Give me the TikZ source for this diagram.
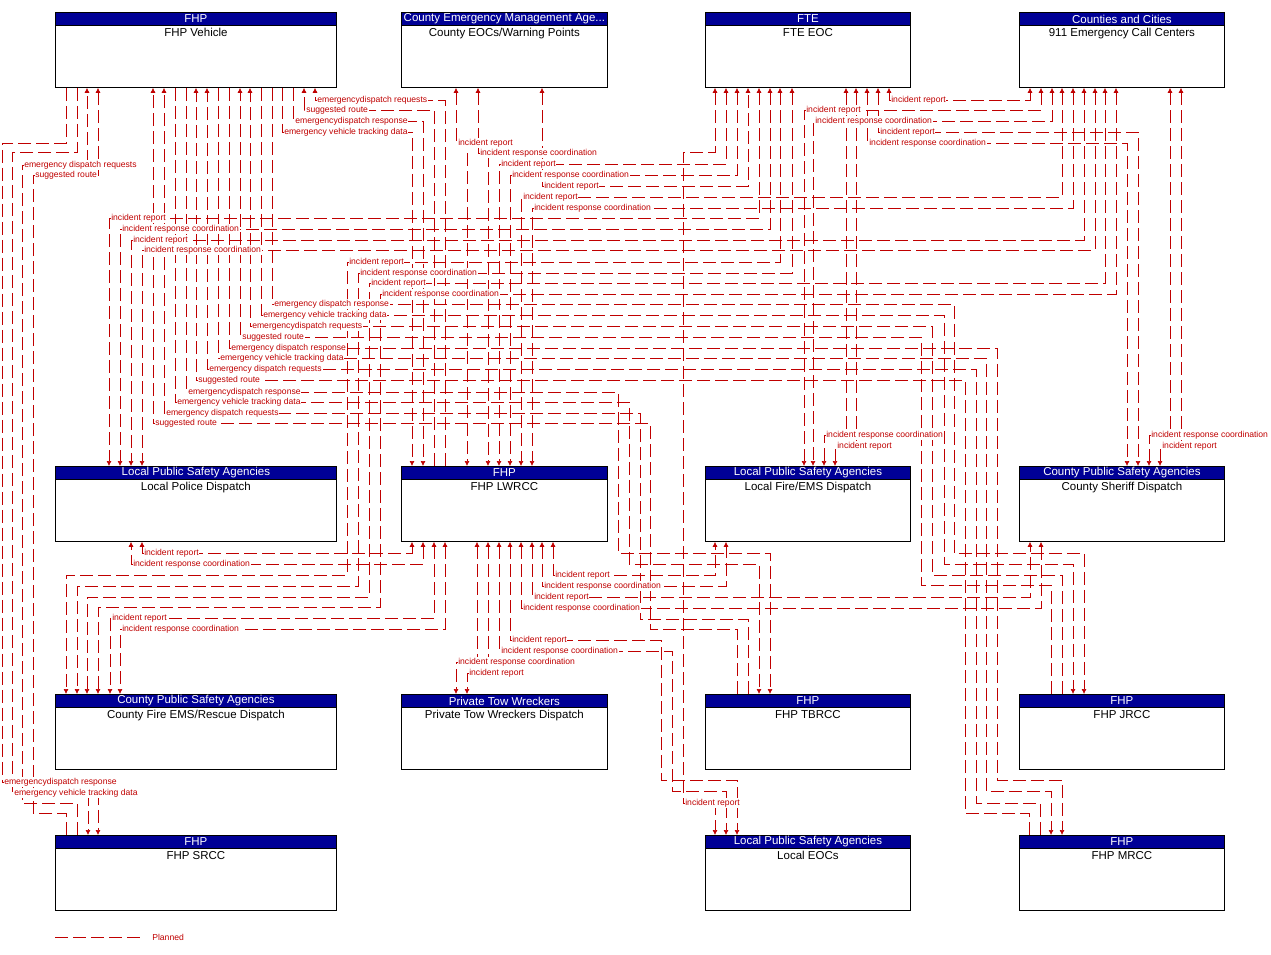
\documentclass[tikz,border=0pt]{standalone}
\usepackage{fontspec}
\setmainfont{Liberation Sans}
\usepackage{tikz}
\usetikzlibrary{arrows.meta}
\definecolor{flowred}{RGB}{192,0,0}
\definecolor{hdrblue}{RGB}{0,0,150}

\newcommand{\sysbox}[6]{%
  \node[boxbody, minimum width=#4] (#1) at (#2,#3) {};
  \node[boxhead, minimum width=#4] (#1h) at (#1.north west) {#5};
  \node[boxname] (#1n) at (#1h.south) {#6};
}

\begin{document}
\begin{tikzpicture}[x=1pt, y=-1pt,
    boxbody/.style={draw=black, line width=0.8pt, fill=white, anchor=north west, minimum height=75pt, inner sep=0pt},
    boxhead/.style={draw=black, line width=0.8pt, fill=hdrblue, text=white, anchor=north west, minimum height=13pt, inner sep=0pt, font=\fontsize{11.5}{11.5}\selectfont},
    boxname/.style={anchor=north, inner sep=2.2pt, font=\fontsize{11.5}{12}\selectfont},
    flow/.style={draw=flowred, line width=0.7pt, dash pattern=on 13pt off 5pt},
    oneway/.style={flow, -{Latex[length=5pt,width=5pt]}},
    twoway/.style={flow, {Latex[length=5pt,width=5pt]}-{Latex[length=5pt,width=5pt]}},
    lbl/.style={anchor=west, fill=white, inner sep=0.6pt, xshift=1.5pt, text=flowred, font=\fontsize{8.6}{9}\selectfont}]
    \useasboundingbox[fill=white] (0,0) rectangle (1271,954);

    \sysbox{veh}{55}{12}{281}{FHP}{FHP Vehicle}
    \sysbox{ceoc}{401}{12}{206}{County Emergency Management Age...}{County EOCs/Warning Points}
    \sysbox{fte}{705}{12}{205}{FTE}{FTE EOC}
    \sysbox{psap}{1019}{12}{205}{Counties and Cities}{911 Emergency Call Centers}
    \sysbox{lpd}{55}{466}{281}{Local Public Safety Agencies}{Local Police Dispatch}
    \sysbox{lwrcc}{401}{466}{206}{FHP}{FHP LWRCC}
    \sysbox{lfd}{705}{466}{205}{Local Public Safety Agencies}{Local Fire/EMS Dispatch}
    \sysbox{cso}{1019}{466}{205}{County Public Safety Agencies}{County Sheriff Dispatch}
    \sysbox{cfd}{55}{694}{281}{County Public Safety Agencies}{County Fire EMS/Rescue Dispatch}
    \sysbox{tow}{401}{694}{206}{Private Tow Wreckers}{Private Tow Wreckers Dispatch}
    \sysbox{tbrcc}{705}{694}{205}{FHP}{FHP TBRCC}
    \sysbox{jrcc}{1019}{694}{205}{FHP}{FHP JRCC}
    \sysbox{srcc}{55}{835}{281}{FHP}{FHP SRCC}
    \sysbox{leoc}{705}{835}{205}{Local Public Safety Agencies}{Local EOCs}
    \sysbox{mrcc}{1019}{835}{205}{FHP}{FHP MRCC}

    % vehicle flows
    \draw[oneway] (lwrcc.north -| 445,0) |- (315,100) -- (veh.south -| 315,0);
    \draw[oneway] (lwrcc.north -| 434,0) |- (304,110) -- (veh.south -| 304,0);
    \draw[oneway] (veh.south -| 293,0) |- (423,121) -- (lwrcc.north -| 423,0);
    \draw[oneway] (veh.south -| 282,0) |- (412,132) -- (lwrcc.north -| 412,0);

    \draw[oneway] (veh.south -| 186,0) |- (618,392) |- (770,553) -- (tbrcc.north -| 770,0);
    \draw[oneway] (veh.south -| 175,0) |- (629,402) |- (759,564) -- (tbrcc.north -| 759,0);
    \draw[oneway] (tbrcc.north -| 748,0) |- (640,619) |- (164,413) -- (veh.south -| 164,0);
    \draw[oneway] (tbrcc.north -| 737,0) |- (650,629) |- (153,423) -- (veh.south -| 153,0);

    \draw[oneway] (veh.south -| 272,0) |- (954,304) |- (1084,553) -- (jrcc.north -| 1084,0);
    \draw[oneway] (veh.south -| 261,0) |- (944,315) |- (1073,564) -- (jrcc.north -| 1073,0);
    \draw[oneway] (jrcc.north -| 1062,0) |- (932,575) |- (250,326) -- (veh.south -| 250,0);
    \draw[oneway] (jrcc.north -| 1051,0) |- (921,585) |- (240,337) -- (veh.south -| 240,0);

    \draw[oneway] (veh.south -| 229,0) |- (997,348) |- (1062,780) -- (mrcc.north -| 1062,0);
    \draw[oneway] (veh.south -| 218,0) |- (986,358) |- (1051,791) -- (mrcc.north -| 1051,0);
    \draw[oneway] (mrcc.north -| 1040,0) |- (976,803) |- (207,369) -- (veh.south -| 207,0);
    \draw[oneway] (mrcc.north -| 1029,0) |- (965,813) |- (196,380) -- (veh.south -| 196,0);

    \draw[oneway] (veh.south -| 66,0) |- (2,143) |- (98,782) -- (srcc.north -| 98,0);
    \draw[oneway] (veh.south -| 77,0) |- (12,152) |- (88,793) -- (srcc.north -| 88,0);
    \draw[oneway] (srcc.north -| 77,0) |- (22,803) |- (87,165) -- (veh.south -| 87,0);
    \draw[oneway] (srcc.north -| 66,0) |- (33,813) |- (98,175) -- (veh.south -| 98,0);

    % incident flows
    \draw[twoway] (ceoc.south -| 456,0) |- (467,143) -- (lwrcc.north -| 467,0);
    \draw[twoway] (ceoc.south -| 478,0) |- (488,153) -- (lwrcc.north -| 488,0);
    \draw[twoway] (fte.south -| 726,0) |- (499,164) -- (lwrcc.north -| 499,0);
    \draw[twoway] (fte.south -| 737,0) |- (510,175) -- (lwrcc.north -| 510,0);
    \draw[twoway] (ceoc.south -| 542,0) |- (748,186) -- (fte.south -| 748,0);
    \draw[twoway] (psap.south -| 1062,0) |- (521,197) -- (lwrcc.north -| 521,0);
    \draw[twoway] (psap.south -| 1073,0) |- (532,208) -- (lwrcc.north -| 532,0);
    \draw[twoway] (fte.south -| 759,0) |- (109,218) -- (lpd.north -| 109,0);
    \draw[twoway] (fte.south -| 770,0) |- (120,229) -- (lpd.north -| 120,0);
    \draw[twoway] (psap.south -| 1084,0) |- (131,240) -- (lpd.north -| 131,0);
    \draw[twoway] (psap.south -| 1095,0) |- (142,250) -- (lpd.north -| 142,0);
    \draw[twoway] (fte.south -| 780,0) |- (347,262) |- (66,575) -- (cfd.north -| 66,0);
    \draw[twoway] (fte.south -| 792,0) |- (358,273) |- (77,586) -- (cfd.north -| 77,0);
    \draw[twoway] (psap.south -| 1105,0) |- (369,283) |- (87,597) -- (cfd.north -| 87,0);
    \draw[twoway] (psap.south -| 1116,0) |- (380,294) |- (98,607) -- (cfd.north -| 98,0);
    \draw[twoway] (lwrcc.south -| 434,0) |- (110,618) -- (cfd.north -| 110,0);
    \draw[twoway] (lwrcc.south -| 445,0) |- (120,629) -- (cfd.north -| 120,0);
    \draw[twoway] (lwrcc.south -| 412,0) |- (142,553) -- (lpd.south -| 142,0);
    \draw[twoway] (lwrcc.south -| 423,0) |- (131,564) -- (lpd.south -| 131,0);
    \draw[twoway] (lwrcc.south -| 477,0) |- (456,662) -- (tow.north -| 456,0);
    \draw[twoway] (lwrcc.south -| 488,0) |- (467,673) -- (tow.north -| 467,0);
    \draw[twoway] (lwrcc.south -| 499,0) |- (672,651) |- (726,791) -- (leoc.north -| 726,0);
    \draw[twoway] (lwrcc.south -| 510,0) |- (661,640) |- (737,780) -- (leoc.north -| 737,0);
    \draw[twoway] (fte.south -| 715,0) |- (683,152) |- (715,803) -- (leoc.north -| 715,0);
    \draw[twoway] (lwrcc.south -| 521,0) |- (1041,608) -- (cso.south -| 1041,0);
    \draw[twoway] (lwrcc.south -| 532,0) |- (1030,597) -- (cso.south -| 1030,0);
    \draw[twoway] (lwrcc.south -| 542,0) |- (726,586) -- (lfd.south -| 726,0);
    \draw[twoway] (lwrcc.south -| 553,0) |- (715,575) -- (lfd.south -| 715,0);
    \draw[twoway] (fte.south -| 889,0) |- (1030,100) -- (psap.south -| 1030,0);
    \draw[twoway] (psap.south -| 1041,0) |- (804,110) -- (lfd.north -| 804,0);
    \draw[twoway] (psap.south -| 1052,0) |- (813,121) -- (lfd.north -| 813,0);
    \draw[twoway] (fte.south -| 878,0) |- (1138,132) -- (cso.north -| 1138,0);
    \draw[twoway] (fte.south -| 867,0) |- (1127,143) -- (cso.north -| 1127,0);
    \draw[twoway] (fte.south -| 846,0) |- (824,435) -- (lfd.north -| 824,0);
    \draw[twoway] (fte.south -| 856,0) |- (835,446) -- (lfd.north -| 835,0);
    \draw[twoway] (psap.south -| 1170,0) |- (1149,435) -- (cso.north -| 1149,0);
    \draw[twoway] (psap.south -| 1181,0) |- (1160,446) -- (cso.north -| 1160,0);

    % flow labels
    \foreach \x/\y/\t [count=\i] in {
        315/100/emergencydispatch requests, 304/110/suggested route,
        293/121/emergencydispatch response, 282/132/emergency vehicle tracking data,
        186/392/emergencydispatch response, 175/402/emergency vehicle tracking data,
        164/413/emergency dispatch requests, 153/423/suggested route,
        272/304/emergency dispatch response, 261/315/emergency vehicle tracking data,
        250/326/emergencydispatch requests, 240/337/suggested route,
        229/348/emergency dispatch response, 218/358/emergency vehicle tracking data,
        207/369/emergency dispatch requests, 196/380/suggested route,
        2/782/emergencydispatch response, 12/793/emergency vehicle tracking data,
        22/165/emergency dispatch requests, 33/175/suggested route,
        456/143/incident report, 478/153/incident response coordination,
        499/164/incident report, 510/175/incident response coordination,
        542/186/incident report, 521/197/incident report,
        532/208/incident response coordination, 109/218/incident report,
        120/229/incident response coordination, 131/240/incident report,
        142/250/incident response coordination, 347/262/incident report,
        358/273/incident response coordination, 369/283/incident report,
        380/294/incident response coordination, 110/618/incident report,
        120/629/incident response coordination, 142/553/incident report,
        131/564/incident response coordination, 456/662/incident response coordination,
        467/673/incident report, 499/651/incident response coordination,
        510/640/incident report, 683/803/incident report,
        521/608/incident response coordination, 532/597/incident report,
        542/586/incident response coordination, 553/575/incident report,
        889/100/incident report, 804/110/incident report,
        813/121/incident response coordination, 878/132/incident report,
        867/143/incident response coordination, 824/435/incident response coordination,
        835/446/incident report, 1149/435/incident response coordination,
        1160/446/incident report}
        \node[lbl] (lb\i) at (\x,\y) {\t};

    \coordinate (lga) at (55,937);
    \coordinate (lgb) at (143,937);
    \draw[flow] (lga) -- (lgb);
    \node[lbl] (lgt) at (150,937) {Planned};
\end{tikzpicture}
\end{document}
